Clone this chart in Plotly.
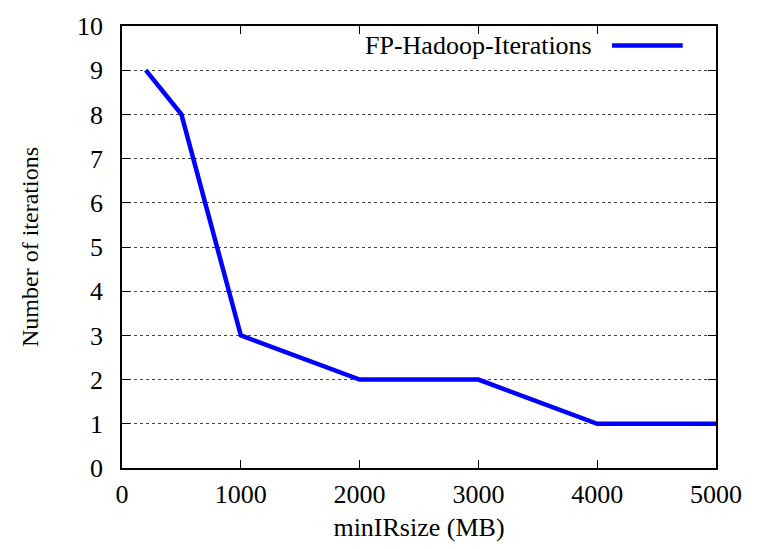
import plotly.graph_objects as go

# minIRsize (MB) vs. number of iterations
min_ir_size = [200, 500, 1000, 2000, 3000, 4000, 5000]
iterations = [9, 8, 3, 2, 2, 1, 1]
series_name = "FP-Hadoop-Iterations"

x_ticks = [0, 1000, 2000, 3000, 4000, 5000]
y_ticks = list(range(0, 11))

FONT = "Liberation Serif, Times New Roman, serif"
FSIZE = 26

fig = go.Figure()
fig.add_trace(go.Scatter(
    x=min_ir_size, y=iterations, mode="lines", name=series_name,
    line=dict(color="#0000ff", width=4.5), showlegend=False,
))

axis_common = dict(
    showline=True, linecolor="black", linewidth=1.5, mirror="ticks",
    ticks="inside", ticklen=8, tickwidth=1, tickcolor="black",
    tickfont=dict(family=FONT, size=FSIZE, color="black"),
    zeroline=False,
)

fig.update_xaxes(
    range=[0, 5000], tickvals=x_ticks, showgrid=False, ticklabelstandoff=2,
    title=dict(text="minIRsize (MB)", font=dict(family=FONT, size=FSIZE, color="black"), standoff=10),
    **axis_common,
)
fig.update_yaxes(
    range=[0, 10], tickvals=y_ticks, showgrid=True, ticklabelstandoff=12,
    gridcolor="#444444", griddash="dot", gridwidth=1,
    title=dict(text="Number of iterations", font=dict(family=FONT, size=24, color="black"), standoff=32),
    **axis_common,
)

# Legend entry: label on the left, line sample on the right
fig.add_annotation(
    xref="paper", yref="paper", x=0.795, y=0.956, xanchor="right", yanchor="middle",
    text=series_name, showarrow=False, font=dict(family=FONT, size=FSIZE, color="black"),
)
fig.add_shape(
    type="line", xref="paper", yref="paper", x0=0.825, x1=0.944, y0=0.956, y1=0.956,
    line=dict(color="#0000ff", width=4.5),
)

fig.update_layout(
    width=763, height=549,
    margin=dict(l=122, r=47, t=18, b=80),
    plot_bgcolor="white", paper_bgcolor="white",
    font=dict(family=FONT, color="black"),
)

fig.write_html("out.html")
